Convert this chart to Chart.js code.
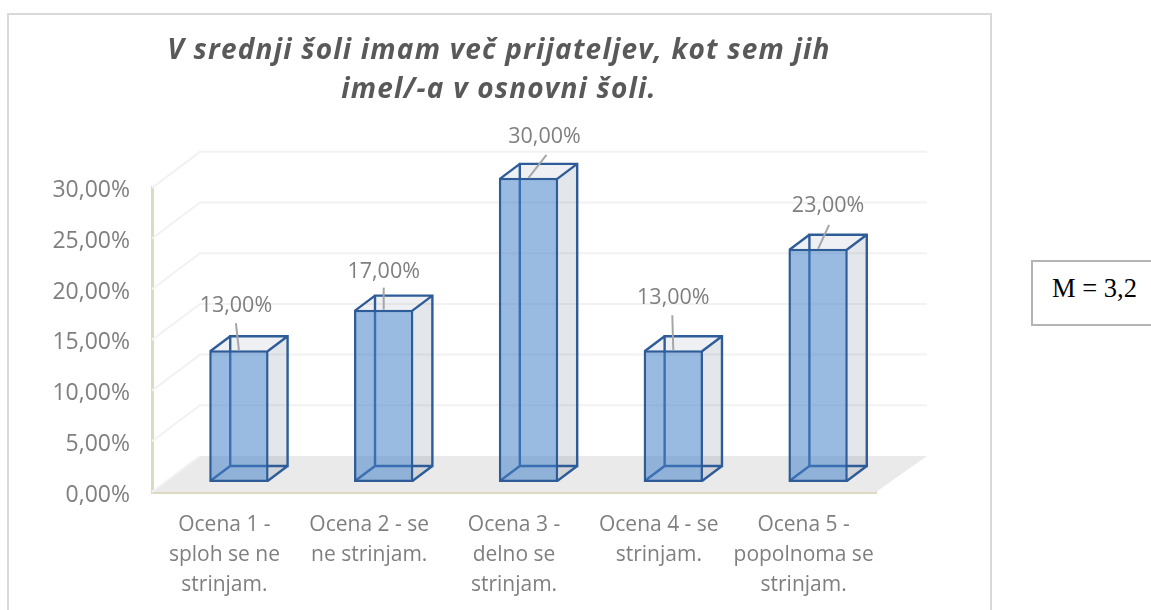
<!DOCTYPE html>
<html>
<head>
<meta charset="utf-8">
<script src="https://cdn.jsdelivr.net/npm/chart.js@4/dist/chart.umd.min.js"></script>
<style>
  html, body { margin: 0; padding: 0; background: #fff; overflow: hidden; }
  #wrap { position: relative; width: 1151px; height: 610px; }
  #frame { position: absolute; left: 7px; top: 13px; width: 981px; height: 600px; border: 2px solid #d9d9d9; }
  #mean { position: absolute; left: 1031px; top: 260px; width: 130px; height: 66px; border: 2px solid #b4b4b4;
          font: 26.5px "Liberation Serif", serif; color: #000; line-height: 52px; text-indent: 19px; box-sizing: border-box; }
  canvas { position: absolute; left: 0; top: 0; }
</style>
</head>
<body>
<div id="wrap">
  <div id="frame"></div>
  <div id="mean">M = 3,2</div>
  <canvas id="chart" width="1151" height="610"></canvas>
</div>
<script>
  const titleLines = ['V srednji šoli imam več prijateljev, kot sem jih', 'imel/-a v osnovni šoli.'];
  const categories = [
    ['Ocena 1 -', 'sploh se ne', 'strinjam.'],
    ['Ocena 2 - se', 'ne strinjam.'],
    ['Ocena 3 -', 'delno se', 'strinjam.'],
    ['Ocena 4 - se', 'strinjam.'],
    ['Ocena 5 -', 'popolnoma se', 'strinjam.']
  ];
  const percentValues = [13, 17, 30, 13, 23];
  const yTickStep = 5;
  const yMax = 30;

  // label position and leader line end, relative to the top middle of the front face
  const labelOffsets = [[-3, -44], [0, -38], [16, -41], [0, -52], [10, -43]];
  const leaderEnds = [[-3, -27], [0, -22], [18, -23], [-1, -35], [11, -24]];

  const fmt = v => v.toFixed(2).replace('.', ',') + '%';

  // 3d look, the pixel sizes of the Excel perspective
  const wallDx = 48, wallDy = -36;
  const barDx = 14.5, barDy = -10;
  const depthDx = 20, depthDy = -15;
  const edgeColor = '#2e5c99';
  const titleShift = 61; // title is centred on the frame, not on the plot

  const scene = {
    id: 'scene',
    beforeDraw(chart) {
      // title has wide letter spacing in the original
      const tb = chart.titleBlock;
      if (tb && !tb._spaced) {
        const d = tb.draw;
        tb.draw = function() {
          const ctx = chart.ctx;
          ctx.save();
          ctx.letterSpacing = '1.2px';
          ctx.translate(titleShift, 0);
          d.call(this);
          ctx.restore();
        };
        tb._spaced = true;
      }
    },
    beforeDatasetsDraw(chart) {
      const ctx = chart.ctx, x = chart.scales.x, y = chart.scales.y;
      const left = x.left, right = x.right, bottom = y.getPixelForValue(0);

      // floor
      ctx.save();
      ctx.fillStyle = '#eaeaea';
      ctx.beginPath();
      ctx.moveTo(left, bottom);
      ctx.lineTo(left + wallDx, bottom + wallDy);
      ctx.lineTo(right + wallDx + 3, bottom + wallDy);
      ctx.lineTo(right, bottom);
      ctx.closePath();
      ctx.fill();

      // grid on side and back wall
      ctx.strokeStyle = '#f2f2f2';
      ctx.lineWidth = 2;
      y.ticks.forEach(t => {
        const py = y.getPixelForValue(t.value);
        ctx.beginPath();
        ctx.moveTo(left, py);
        ctx.lineTo(left + wallDx, py + wallDy);
        if (t.value > 0) ctx.lineTo(right + wallDx + 3, py + wallDy);
        ctx.stroke();
      });
      ctx.restore();
    },
    beforeDatasetDraw(chart, args) {
      const ctx = chart.ctx;
      const base = chart.scales.y.getPixelForValue(0);
      ctx.save();
      ctx.translate(barDx, barDy);
      // back parts of each box, seen through the front face
      args.meta.data.forEach(bar => {
        const l = bar.x - bar.width / 2 + 1, r = bar.x + bar.width / 2 - 1;
        const t = bar.y + 1, b = base - 1;
        const dx = depthDx, dy = depthDy;

        ctx.fillStyle = 'rgba(68, 84, 120, 0.15)';
        ctx.beginPath();
        ctx.moveTo(r, t); ctx.lineTo(r + dx, t + dy); ctx.lineTo(r + dx, b + dy); ctx.lineTo(r, b);
        ctx.closePath(); ctx.fill();

        ctx.fillStyle = 'rgba(68, 84, 120, 0.09)';
        ctx.beginPath();
        ctx.moveTo(l, t); ctx.lineTo(l + dx, t + dy); ctx.lineTo(r + dx, t + dy); ctx.lineTo(r, t);
        ctx.closePath(); ctx.fill();

        ctx.strokeStyle = edgeColor;
        ctx.lineWidth = 2.4;
        ctx.beginPath();
        ctx.rect(l + dx, t + dy, r - l, b - t);
        ctx.moveTo(l, t); ctx.lineTo(l + dx, t + dy);
        ctx.moveTo(r, t); ctx.lineTo(r + dx, t + dy);
        ctx.moveTo(l, b); ctx.lineTo(l + dx, b + dy);
        ctx.moveTo(r, b); ctx.lineTo(r + dx, b + dy);
        ctx.stroke();
      });
    },
    afterDatasetDraw(chart) {
      chart.ctx.restore();
    },
    afterDatasetsDraw(chart) {
      const ctx = chart.ctx;
      const bars = chart.getDatasetMeta(0).data;
      ctx.save();
      ctx.font = '21.5px "Open Sans", sans-serif';
      ctx.textAlign = 'center';
      ctx.textBaseline = 'middle';
      bars.forEach((bar, i) => {
        const px = bar.x + barDx, py = bar.y + barDy;
        ctx.strokeStyle = '#a6a6a6';
        ctx.lineWidth = 2;
        ctx.beginPath();
        ctx.moveTo(px, py);
        ctx.lineTo(px + leaderEnds[i][0], py + leaderEnds[i][1]);
        ctx.stroke();
        ctx.fillStyle = '#7f7f7f';
        ctx.fillText(fmt(percentValues[i]), px + labelOffsets[i][0], py + labelOffsets[i][1]);
      });
      ctx.restore();
    }
  };

  new Chart(document.getElementById('chart'), {
    type: 'bar',
    plugins: [scene],
    data: {
      labels: categories,
      datasets: [{
        data: percentValues,
        backgroundColor: 'rgba(70, 130, 200, 0.55)',
        borderColor: edgeColor,
        borderWidth: 2.5,
        borderSkipped: false,
        categoryPercentage: 1,
        barPercentage: 0.41,
        clip: false
      }]
    },
    options: {
      responsive: false,
      animation: false,
      layout: { padding: { left: 0, right: 275, top: 0, bottom: 0 } },
      plugins: {
        legend: { display: false },
        tooltip: { enabled: false },
        title: {
          display: true,
          text: titleLines,
          color: '#595959',
          font: { family: '"Open Sans", sans-serif', size: 28, weight: 'bold', style: 'italic', lineHeight: 1.39 },
          padding: { top: 32, bottom: 78 }
        }
      },
      scales: {
        x: {
          afterFit: s => { s.height = 118; },
          grid: { display: false, drawTicks: false },
          border: { display: true, color: '#ddd9c3', width: 3 },
          ticks: {
            color: '#7f7f7f',
            maxRotation: 0,
            autoSkip: false,
            padding: 18,
            font: { family: '"Open Sans", sans-serif', size: 21, lineHeight: 1.43 }
          }
        },
        y: {
          min: 0,
          max: yMax,
          afterFit: s => { s.width = 152; },
          grid: { display: false, drawTicks: false },
          border: { display: true, color: '#ddd9c3', width: 3 },
          ticks: {
            stepSize: yTickStep,
            color: '#7f7f7f',
            padding: 22,
            labelOffset: 3,
            font: { family: '"Open Sans", sans-serif', size: 23 },
            callback: v => fmt(v)
          }
        }
      }
    }
  });
</script>
</body>
</html>
